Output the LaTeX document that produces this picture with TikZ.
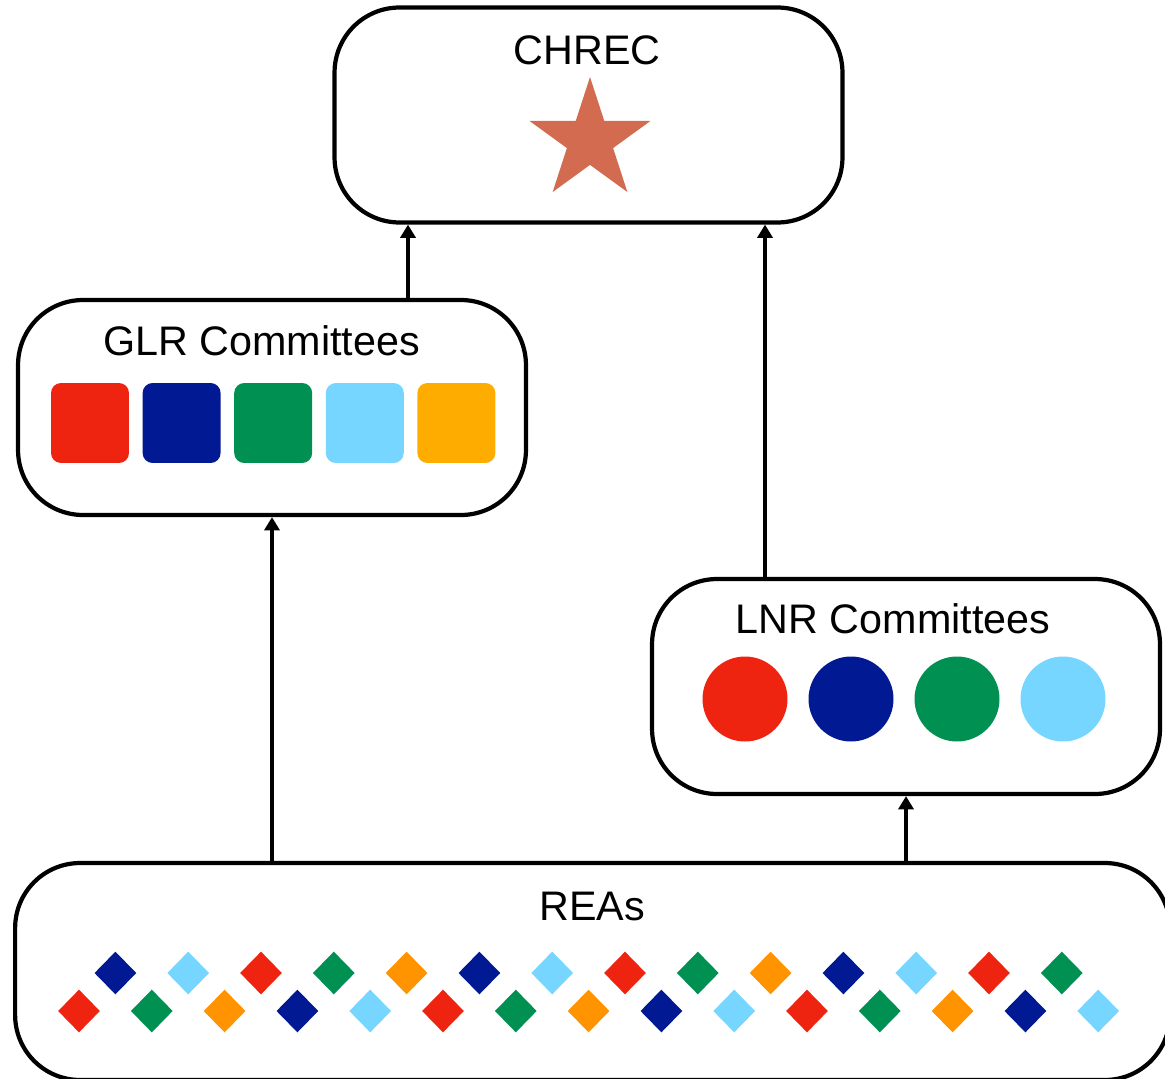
\documentclass[tikz,border=0pt]{standalone}
\usepackage{fontspec}
\setmainfont{Liberation Sans}
\usetikzlibrary{shapes.geometric}
\usetikzlibrary{arrows,arrows.meta}
\usetikzlibrary{calc,positioning}
\definecolor{boxred}{RGB}{238,35,16}
\definecolor{boxnavy}{RGB}{1,26,147}
\definecolor{boxgreen}{RGB}{0,144,81}
\definecolor{boxsky}{RGB}{118,214,255}
\definecolor{boxorange}{RGB}{254,173,0}
\definecolor{reaorange}{RGB}{255,148,0}
\definecolor{starcoral}{RGB}{211,107,80}
\colorlet{reacol0}{boxred}
\colorlet{reacol1}{boxnavy}
\colorlet{reacol2}{boxgreen}
\colorlet{reacol3}{boxsky}
\colorlet{reacol4}{reaorange}

\tikzset{
	panel/.style={draw=black, line width=2.4pt, rounded corners=1.3cm, minimum width=10.16cm, minimum height=4.3cm, inner sep=0pt},
	panellabel/.style={font=\fontsize{23.5}{28}\selectfont, inner sep=0pt},
	tile/.style={rounded corners=0.2cm, minimum width=1.56cm, minimum height=1.6cm, inner sep=0pt},
	disc/.style={circle, minimum size=1.7cm, inner sep=0pt},
	gem/.style={diamond, minimum width=0.84cm, minimum height=0.86cm, inner sep=0pt},
	link/.style={line width=2.4pt, -{Triangle[width=8.5pt,length=7.5pt]}},
}

\begin{document}
\begin{tikzpicture}[x=0.02cm, y=-0.02cm]

	\useasboundingbox (0,0) rectangle (1165,1078);

	% boxes
	\node[panel] (chrec) at (588.5,115) {};
	\node[panel] (glr) at (272,407.5) {};
	\node[panel] (lnr) at (906,686.5) {};
	\node[panel, minimum width=23.1cm, minimum height=4.34cm] (reas) at (592.5,971.5) {};

	% labels
	\node[panellabel] (chrectext) at (587,50) {CHREC};
	\node[panellabel] (glrtext) at (261.5,341) {GLR Committees};
	\node[panellabel] (lnrtext) at (893,619) {LNR Committees};
	\node[panellabel] (reastext) at (592,906) {REAs};

	% star
	\coordinate (starc) at (590,140.6);
	\fill[starcoral] (starc) +(90:1.272cm)
		\foreach \a in {0,...,4} { -- +(126+72*\a:0.486cm) -- +(162+72*\a:1.272cm) } -- cycle;

	\foreach \col [count=\k from 0] in {boxred,boxnavy,boxgreen,boxsky,boxorange}
		\node[tile, fill=\col] (glr\k) at (90+91.6*\k,423) {};

	\foreach \col [count=\k from 0] in {boxred,boxnavy,boxgreen,boxsky}
		\node[disc, fill=\col] (lnr\k) at (745+106*\k,699) {};

	\foreach \i in {0,...,28}{
		\pgfmathtruncatemacro{\m}{mod(\i,5)}
		\pgfmathsetmacro{\dy}{ifthenelse(mod(\i,2)==0,1011,973)}
		\node[gem, fill=reacol\m] (rea\i) at (79+36.4*\i,\dy) {};
	}

	% arrows
	\draw[link] (reas.north -| glr.south) -- (glr.south);
	\draw[link] (reas.north -| lnr.south) -- (lnr.south);
	\draw[link] (glr.north -| 408,0) -- (chrec.south -| 408,0);
	\draw[link] (lnr.north -| 765,0) -- (chrec.south -| 765,0);

\end{tikzpicture}
\end{document}
